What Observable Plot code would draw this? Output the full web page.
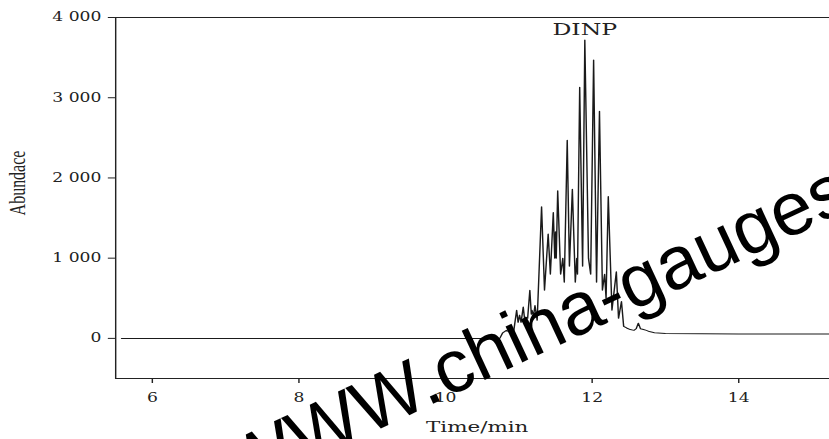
<!DOCTYPE html>
<html><head><meta charset="utf-8">
<script src="https://cdn.jsdelivr.net/npm/d3@7"></script>
<script src="https://cdn.jsdelivr.net/npm/@observablehq/plot@0.6"></script>
<style>
html,body{margin:0;padding:0;background:#fff;overflow:hidden;width:829px;height:439px;}
#wrap{position:relative;width:829px;height:439px;overflow:hidden;background:#fff;}
#chart{position:absolute;left:0;top:0;transform-origin:0 0;transform:scaleX(1.43);}
#wm{position:absolute;left:0;top:0;pointer-events:none;}
</style></head><body>
<div id="wrap"><div id="chart"></div><svg id="wm" width="829" height="439"></svg></div>
<script>
// retention time (min)
const time = [5.58, 10.74, 10.78, 10.83, 10.87, 10.90, 10.93, 10.97, 10.99, 11.01, 11.03, 11.06, 11.08, 11.09, 11.12, 11.15, 11.17, 11.18, 11.20, 11.22, 11.25,
  11.31, 11.35, 11.40, 11.43, 11.47, 11.49, 11.50, 11.51, 11.53, 11.57, 11.60, 11.62, 11.66, 11.69, 11.73, 11.77, 11.79, 11.80, 11.83, 11.87, 11.90,
  11.95, 11.98, 12.02, 12.06, 12.10, 12.14, 12.17, 12.19, 12.22, 12.27, 12.33, 12.36, 12.40, 12.43, 12.47, 12.52, 12.57, 12.60, 12.63, 12.66, 12.70,
  12.74, 12.78, 12.85, 13.0, 13.5, 14.0, 14.5, 15.0, 15.5];
// abundance
const abundance = [0, 0, 70, 100, 80, 130, 90, 350, 200, 290, 200, 390, 230, 265, 250, 600, 300, 350, 280, 410, 225,
  1640, 600, 1300, 800, 1570, 1000, 1330, 1000, 1840, 800, 1000, 700, 2470, 900, 1860, 700, 1000, 800, 3130, 900, 3720,
  1000, 800, 3470, 700, 2830, 600, 800, 500, 1770, 350, 830, 250, 460, 150, 130, 110, 100, 120, 190, 120, 110,
  100, 85, 70, 62, 58, 56, 55, 54, 54];
const xTicks = [6, 8, 10, 12, 14];
const yTicks = [0, 1000, 2000, 3000, 4000];
const peakLabels = ["DINP"];
const peakTimes = [11.9];
const xLabel = "Time/min";
const yLabel = "Abundace";
const watermarkLeft = "http://WWW.";
const watermarkRight = "china-gauges.com";

const data = time.map((t, i) => ({t, a: abundance[i]}));
const fmt = d => d3.format(",")(d).replace(/,/g, " ");

const chart = Plot.plot({
  width: 610, height: 439,
  marginLeft: 80.4, marginRight: 17, marginTop: 17, marginBottom: 61,
  x: {domain: [5.5, 15.5]},
  y: {domain: [-500, 4000]},
  style: {fontFamily: "DejaVu Serif", fontSize: "12px", color: "#222", background: "#fff"},
  marks: [
    Plot.frame({stroke: "#222", strokeWidth: 1}),
    Plot.axisX({ticks: xTicks, tickSize: 5, tickPadding: 10, label: null, fontSize: 12, tickFormat: d => String(d)}),
    Plot.axisY({ticks: yTicks, tickSize: 5, tickPadding: 5, label: null, fontSize: 12, tickFormat: fmt}),
    Plot.line(data, {x: "t", y: "a", stroke: "#1a1a1a", strokeWidth: 1}),
    Plot.text(peakLabels, {x: peakTimes, text: d => d, frameAnchor: "top", lineAnchor: "middle", dy: 12.5, fontSize: 16.5, fill: "#222"}),
    Plot.text([xLabel], {text: d => d, frameAnchor: "bottom", lineAnchor: "middle", textAnchor: "middle", dy: 49, dx: -3.5, fontSize: 15, fill: "#222"}),
    Plot.text([yLabel], {text: d => d, frameAnchor: "left", textAnchor: "middle", lineAnchor: "middle", dx: -68.5, dy: -15, rotate: -90, fontFamily: "Liberation Serif", fontSize: 16, fill: "#222"})
  ]
});
document.getElementById("chart").appendChild(chart);

// watermark overlay
const wm = d3.select("#wm").append("g")
  .attr("transform", "translate(446,398) rotate(-25)")
  .attr("font-family", "Liberation Sans, Arial, sans-serif")
  .attr("font-size", 75)
  .attr("fill", "#000");
wm.append("text").attr("text-anchor", "end").text(watermarkLeft);
wm.append("text").attr("text-anchor", "start").text(watermarkRight);
</script>
</body></html>
